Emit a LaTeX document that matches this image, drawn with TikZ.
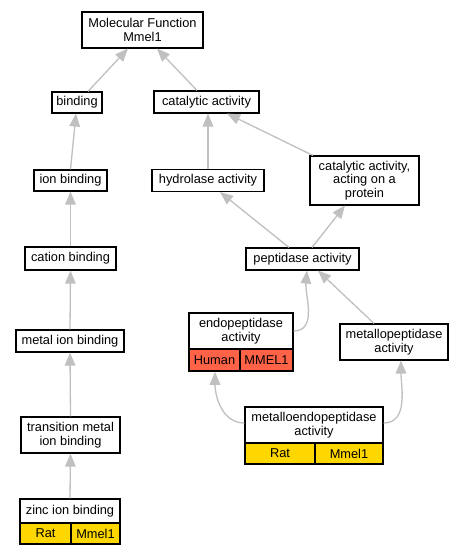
\documentclass[tikz,border=0pt]{standalone}
\usepackage{fontspec}
\setmainfont{Liberation Sans}
\usetikzlibrary{arrows.meta,calc,fit}
\definecolor{edgegray}{RGB}{192,192,192}
\definecolor{humanred}{RGB}{255,99,71}
\definecolor{ratgold}{RGB}{255,215,0}
\begin{document}
\begin{tikzpicture}[x=1pt,y=-1pt,
  box/.style={draw=black,line width=1.1pt,fill=white,inner sep=0pt,align=center,font=\fontsize{12.8}{13.5}\selectfont},
  redcell/.style={box,fill=humanred},
  goldcell/.style={box,fill=ratgold},
  rel/.style={draw=edgegray,line width=1.3pt,-{Triangle[length=13pt,width=10.5pt]}},
]
\useasboundingbox[fill=white] (0,0) rectangle (463,555);

% left column
\node[box,minimum width=121pt,minimum height=36pt] (mf) at (142.5,30) {Molecular Function\\Mmel1};
\node[box,minimum width=50pt,minimum height=21pt] (bind) at (77,102.5) {binding};
\node[box,minimum width=105pt,minimum height=22pt] (cat) at (206.5,102) {catalytic activity};
\node[box,minimum width=73pt,minimum height=21pt] (ion) at (70.5,180.5) {ion binding};
\node[box,minimum width=112pt,minimum height=22pt] (hyd) at (208,180.5) {hydrolase activity};
\node[box,minimum width=109pt,minimum height=49pt] (cap) at (364.5,180.5) {catalytic activity,\\acting on a\\protein};
\node[box,minimum width=91pt,minimum height=23pt] (cation) at (70.5,258.5) {cation binding};
\node[box,minimum width=113pt,minimum height=22pt] (pep) at (302.5,259) {peptidase activity};
\node[box,minimum width=108pt,minimum height=22pt] (metal) at (70,341) {metal ion binding};
\node[box,minimum width=108pt,minimum height=36pt] (mp) at (394,342) {metallopeptidase\\activity};
\node[box,minimum width=99pt,minimum height=36pt] (trans) at (70.5,435) {transition metal\\ion binding};

% endopeptidase table
\node[box,minimum width=104pt,minimum height=36pt] (endo) at (241,331) {endopeptidase\\activity};
\node[redcell,minimum width=51pt,minimum height=22pt] (endoH) at (214.5,360) {Human};
\node[redcell,minimum width=53pt,minimum height=22pt] (endoM) at (266.5,360) {MMEL1};
\node[fit=(endo)(endoH)(endoM),inner sep=0pt] (endoAll) {};

% metalloendopeptidase table
\node[box,minimum width=138pt,minimum height=36pt] (me) at (314,425) {metalloendopeptidase\\activity};
\node[goldcell,minimum width=70pt,minimum height=21pt] (meR) at (280,453.5) {Rat};
\node[goldcell,minimum width=68pt,minimum height=21pt] (meM) at (349,453.5) {Mmel1};
\node[fit=(me)(meR)(meM),inner sep=0pt] (meAll) {};

% zinc ion binding table
\node[box,minimum width=100pt,minimum height=24pt] (zinc) at (70,511) {zinc ion binding};
\node[goldcell,minimum width=51pt,minimum height=21pt] (zincR) at (45.5,533.5) {Rat};
\node[goldcell,minimum width=49pt,minimum height=21pt] (zincM) at (95.5,533.5) {Mmel1};
\node[fit=(zinc)(zincR)(zincM),inner sep=0pt] (zincAll) {};

% edges
\draw[rel] ($(bind.north)+(11,0)$) -- ($(mf.south)+(-14.5,0)$);
\draw[rel] ($(cat.north)+(-9.5,0)$) -- ($(mf.south)+(14.5,0)$);
\draw[rel] (ion.north) -- ($(bind.south)+(-1,0)$);
\draw[rel] (cation.north) -- (ion.south);
\draw[rel] (metal.north) -- (cation.south);
\draw[rel] (trans.north) -- (metal.south);
\draw[rel] (zincAll.north) -- (trans.south);
\draw[rel] (hyd.north) -- ($(cat.south)+(1.5,0)$);
\draw[rel] ($(cap.north)+(-51.5,0)$) -- ($(cat.south)+(20.5,0)$);
\draw[rel] ($(pep.north)+(-13.5,0)$) -- ($(hyd.south)+(12,0)$);
\draw[rel] ($(pep.north)+(9.5,0)$) -- ($(cap.south)+(-19.5,0)$);
\draw[rel] (endo.east) to[out=0,in=-95] ($(pep.south)+(4.5,0)$);
\draw[rel] ($(mp.north)+(-20,0)$) -- ($(pep.south)+(15.5,0)$);
\draw[rel] ($(me.west)+(0,-2)$) to[out=180,in=-90] ($(endoAll.south)+(-26,0)$);
\draw[rel] ($(me.east)+(0,-2)$) to[out=0,in=-90] ($(mp.south)+(7,0)$);
\end{tikzpicture}
\end{document}
